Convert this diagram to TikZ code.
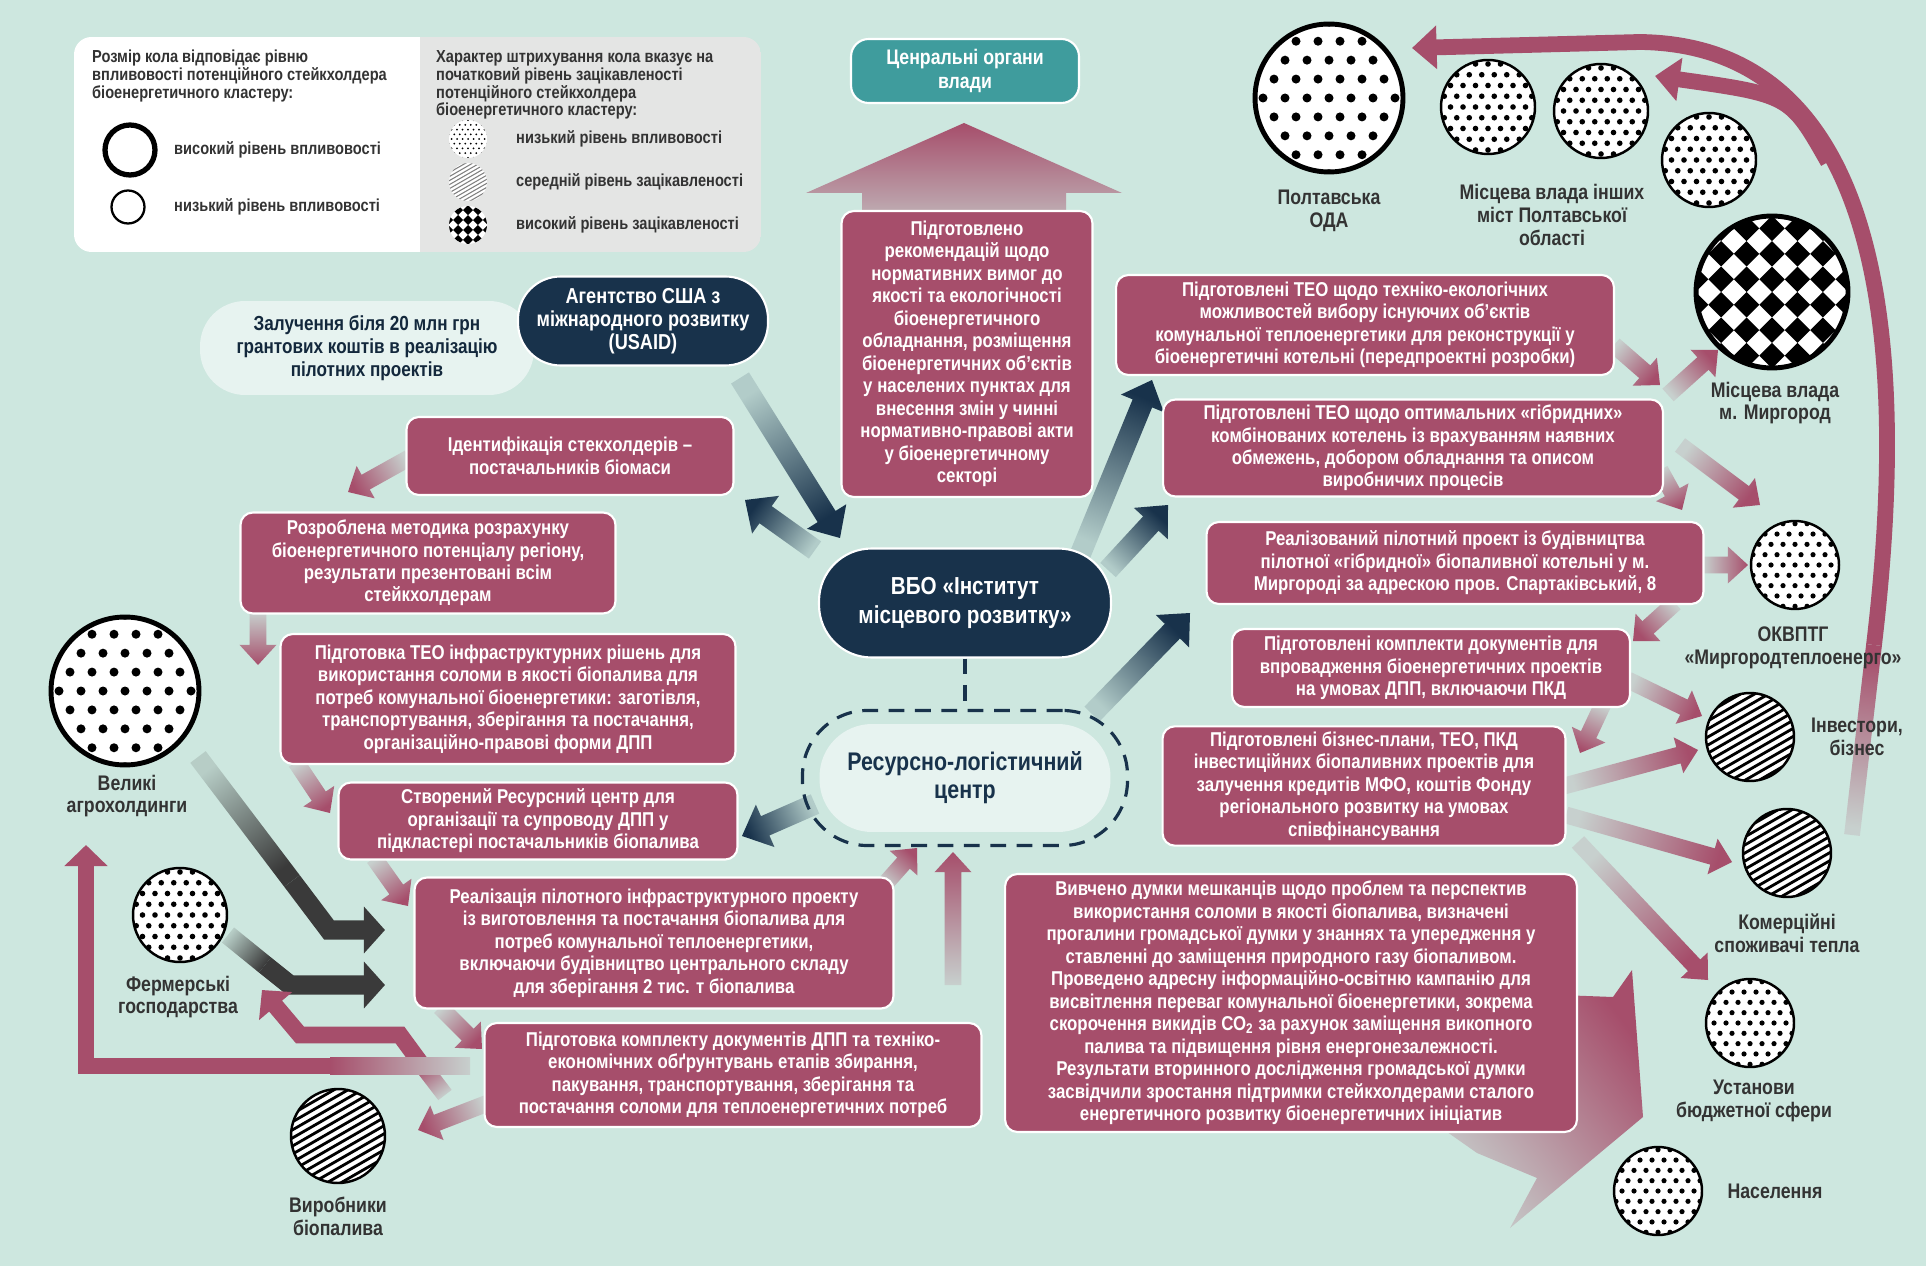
\documentclass[tikz,border=0pt]{standalone}
\usepackage{fontspec}
\setmainfont{Liberation Sans}[FakeStretch=0.84]
\usetikzlibrary{calc,fit,arrows.meta}

\definecolor{bgc}{HTML}{CDE7DF}
\definecolor{boxpink}{HTML}{A64E6B}
\definecolor{navy}{HTML}{18324B}
\definecolor{tealc}{HTML}{3F9C9D}
\definecolor{lightpill}{HTML}{E7F3F0}
\definecolor{darkarr}{HTML}{3A3A3A}
\definecolor{legendgray}{HTML}{E4E5E4}
\definecolor{lbltext}{HTML}{333333}

\newcommand\boxfont{\fontsize{11.4}{12.8}\selectfont\bfseries}
\newcommand\lblfont{\fontsize{12}{13}\selectfont\bfseries}
\newcommand\legfont{\fontsize{9.9}{10.2}\selectfont\bfseries}

% широка стрілка з градієнтом: [півширина]{хвіст}{вістря}{колір}
\newcommand\fatarrow[4][4.8pt]{%
  \coordinate (fa-a) at #2;
  \coordinate (fa-b) at #3;
  \pgfmathanglebetweenpoints{\pgfpointanchor{fa-a}{center}}{\pgfpointanchor{fa-b}{center}}%
  \pgfmathsetmacro\fashade{\pgfmathresult-90}%
  \coordinate (fa-h) at ($(fa-b)!2.4*#1!(fa-a)$);
  \shade[top color=#4, bottom color=#4!15!bgc, shading angle=\fashade]
    ($(fa-a)!#1!90:(fa-b)$) -- ($(fa-h)!#1!-90:(fa-a)$) -- ($(fa-h)!2.2*#1!-90:(fa-a)$)
    -- (fa-b) -- ($(fa-h)!2.2*#1!90:(fa-a)$) -- ($(fa-h)!#1!90:(fa-a)$)
    -- ($(fa-a)!#1!-90:(fa-b)$) -- cycle;
}
% смуга без вістря (хвіст зігнутих стрілок)
\newcommand\fatband[4][4.8pt]{%
  \coordinate (fa-a) at #2;
  \coordinate (fa-b) at #3;
  \pgfmathanglebetweenpoints{\pgfpointanchor{fa-a}{center}}{\pgfpointanchor{fa-b}{center}}%
  \pgfmathsetmacro\fashade{\pgfmathresult-90}%
  \shade[top color=#4, bottom color=#4!15!bgc, shading angle=\fashade]
    ($(fa-a)!#1!90:(fa-b)$) -- ($(fa-b)!#1!-90:(fa-a)$)
    -- ($(fa-b)!#1!90:(fa-a)$) -- ($(fa-a)!#1!-90:(fa-b)$) -- cycle;
}
% заповнення кіл
\newcommand\dotgrid[2]{%
  \begin{scope}[shift={(path picture bounding box.center)}]
    \foreach \i in {-5,...,5}{\foreach \j in {-6,...,6}{%
      \pgfmathsetmacro\dx{(\i+0.5*mod(\j+12,2))*#1}%
      \fill[black] (\dx,\j*#1*0.86) circle[radius=#2];}}
  \end{scope}}
\newcommand\hatchgrid[3][black]{%
  \begin{scope}[shift={(path picture bounding box.center)}]
    \foreach \k in {-10,...,10}
      \draw[#1, line width=#3] ({\k*#2*0.5-87},{\k*#2*0.866+50}) -- ++(174,-100);
  \end{scope}}
\newcommand\checkgrid[1]{%
  \begin{scope}[shift={(path picture bounding box.center)}]
    \foreach \i in {-5,...,4}{\foreach \j in {-5,...,4}{%
      \pgfmathtruncatemacro\chk{mod(\i+\j+20,2)}%
      \pgfmathsetmacro\ca{#1*0.7071}%
      \ifnum\chk=0 \fill[black] ({(\i-\j)*\ca},{(\i+\j)*\ca}) -- ++(\ca,\ca) -- ++(-\ca,\ca) -- ++(-\ca,-\ca) -- cycle;\fi}}
  \end{scope}}

\tikzset{
  pinkbox/.style={rectangle, rounded corners=7pt, fill=boxpink, draw=white, line width=1.2pt,
    text=white, font=\boxfont, align=center, inner sep=3pt},
  navypill/.style={rectangle, fill=navy, draw=white, line width=1.2pt, text=white,
    align=center, inner sep=3pt},
  lightbox/.style={rectangle, fill=lightpill, text=navy, align=center, inner sep=3pt},
  holder/.style={circle, draw=black, fill=white, inner sep=0pt, line width=#1},
  lbl/.style={font=\lblfont, text=lbltext, align=center},
  legtxt/.style={font=\legfont, text=lbltext, align=left},
  bendpink/.style={draw=boxpink, line width=9.6pt, line join=miter,
    -{Triangle[width=24pt 0, length=12pt 0]}},
  benddark/.style={draw=darkarr, line width=11pt, line join=miter,
    -{Triangle[width=26pt 0, length=12pt 0]}},
}

\begin{document}
\begin{tikzpicture}[x=0.02cm, y=-0.02cm]
  % тло
  \fill[bgc] (0,0) rectangle (1926,1266);
  \useasboundingbox (0,0) rectangle (1926,1266);

  % легенда
  \begin{scope}
    \clip[rounded corners=0.35cm] (74,37) rectangle (761,252);
    \fill[white] (74,37) rectangle (420,252);
    \fill[legendgray] (420,37) rectangle (761,252);
  \end{scope}
  \node[legtxt, anchor=north west] (legsize) at (86,44) {Розмір кола відповідає рівню\\впливовості потенційного стейкхолдера\\біоенергетичного кластеру:};
  \node[legtxt, anchor=north west] (leghatch) at (430,44) {Характер штрихування кола вказує на\\початковий рівень зацікавленості\\потенційного стейкхолдера\\біоенергетичного кластеру:};
  \node[circle, draw=black, line width=3pt, minimum size=1.0cm] (leghi) at (130,150) {};
  \node[circle, draw=black, line width=1.3pt, minimum size=0.66cm] (leglo) at (128,207) {};
  \node[legtxt, anchor=west] (leghit) at (168,150) {високий рівень впливовості};
  \node[legtxt, anchor=west] (leglot) at (168,207) {низький рівень впливовості};
  \node[circle, fill=white, inner sep=0pt, minimum size=0.76cm, path picture={\dotgrid{5.5}{1}}] (legdot) at (468,139) {};
  \node[circle, fill=white, inner sep=0pt, minimum size=0.76cm, path picture={\hatchgrid[gray]{3.5}{0.6pt}}] (leghat) at (468,182) {};
  \node[circle, fill=white, inner sep=0pt, minimum size=0.76cm, path picture={\checkgrid{7}}] (legchk) at (468,225) {};
  \node[legtxt, anchor=west] (legdott) at (510,139) {низький рівень впливовості};
  \node[legtxt, anchor=west] (leghatt) at (510,182) {середній рівень зацікавленості};
  \node[legtxt, anchor=west] (legchkt) at (510,225) {високий рівень зацікавленості};

  % велика стрілка вгору
  \shade[top color=boxpink, bottom color=boxpink!40!bgc]
    (862,212) -- (862,193) -- (806,193) -- (964,123) -- (1122,193) -- (1066,193) -- (1066,212) -- cycle;

  % велика стрілка від опитування
  \shade[top color=boxpink, bottom color=boxpink!15!bgc, shading angle=-53]
    (1560,995) -- (1613,997) -- (1632,970) -- (1643,1117) -- (1510,1228) -- (1537,1178) -- (1477,1153) -- (1430,1120) -- cycle;

  % рожеві стрілки ліворуч
  \fatarrow{(409,458)}{(348,492)}{boxpink}
  \fatarrow{(258,612)}{(258,665)}{boxpink}
  \fatarrow{(296,762)}{(330,813)}{boxpink}
  \fatarrow{(374,858)}{(408,906)}{boxpink}
  \fatarrow{(440,1007)}{(482,1049)}{boxpink}
  \fatarrow{(488,1103)}{(418,1130)}{boxpink}
  \fatarrow{(885,884)}{(917,848)}{boxpink}
  \fatarrow{(953,985)}{(953,852)}{boxpink}

  % рожеві стрілки праворуч
  \fatarrow{(1614,345)}{(1660,385)}{boxpink}
  \fatarrow{(1668,395)}{(1718,350)}{boxpink}
  \fatarrow{(1680,445)}{(1760,505)}{boxpink}
  \fatarrow{(1660,470)}{(1682,510)}{boxpink}
  \fatarrow{(1703,565)}{(1748,565)}{boxpink}
  \fatarrow{(1675,603)}{(1633,641)}{boxpink}
  \fatarrow{(1628,680)}{(1702,716)}{boxpink}
  \fatarrow{(1603,704)}{(1580,753)}{boxpink}
  \fatarrow{(1564,786)}{(1698,750)}{boxpink}
  \fatarrow{(1566,815)}{(1732,862)}{boxpink}
  \fatarrow{(1578,842)}{(1708,980)}{boxpink}

  % темно-сині стрілки
  \fatarrow[6pt]{(740,378)}{(840,538)}{navy}
  \fatarrow[6pt]{(815,550)}{(745,500)}{navy}
  \fatarrow[6pt]{(1080,555)}{(1152,380)}{navy}
  \fatarrow[6pt]{(1108,570)}{(1168,505)}{navy}
  \fatarrow[6pt]{(1092,714)}{(1190,613)}{navy}
  \fatarrow[6pt]{(815,804)}{(742,836)}{navy}

  % зігнуті стрілки внизу ліворуч
  \fatband[5.5pt]{(198,757)}{(292,881)}{darkarr}
  \draw[benddark] (292,881) -- (329,930) -- (385,930);
  \fatband[5.5pt]{(228,935)}{(265,965)}{darkarr}
  \draw[benddark] (265,965) -- (290,985) -- (385,985);
  \fatband{(445,1095)}{(422,1065)}{boxpink}
  \draw[bendpink] (422,1065) -- (400,1035) -- (300,1035) -- (262,990);
  \fatband{(470,1066)}{(330,1066)}{boxpink}
  \draw[bendpink] (330,1066) -- (86,1066) -- (86,845);

  % дуга праворуч
  \fatband[4.5pt]{(1852,835)}{(1874,645)}{boxpink}
  \draw[boxpink, line width=9pt, -{Triangle[width=24pt 0, length=14pt 0]}]
    (1874,645) .. controls (1915,300) and (1865,45) .. (1640,42) -- (1412,48);
  \draw[boxpink, line width=9pt, -{Triangle[width=24pt 0, length=14pt 0]}]
    (1828,162) .. controls (1790,95) .. (1655,76);

  % блоки
  \node[rectangle, rounded corners=10pt, fill=tealc, draw=white, line width=1.2pt, text=white,
    font=\fontsize{12}{13.2}\selectfont\bfseries, align=center,
    minimum width=4.56cm, minimum height=1.28cm] (central) at (965,71) {Ценральні органи\\влади};
  \node[pinkbox, minimum width=5.02cm, minimum height=5.72cm] (recom) at (967,354)
    {Підготовлено\\рекомендацій щодо\\нормативних вимог до\\якості та екологічності\\біоенергетичного\\обладнання, розміщення\\біоенергетичних об'єктів\\у населених пунктах для\\внесення змін у чинні\\нормативно-правові акти\\у біоенергетичному\\секторі};
  \node[lightbox, rounded corners=0.9cm, minimum width=6.68cm, minimum height=1.88cm,
    font=\fontsize{11.6}{12.9}\selectfont\bfseries, text=navy!80!black] (grant) at (367,348)
    {Залучення біля 20 млн грн\\грантових коштів в реалізацію\\пілотних проектів};
  \node[navypill, rounded corners=0.85cm, minimum width=5.0cm, minimum height=1.78cm,
    font=\fontsize{12.3}{13}\selectfont\bfseries] (usaid) at (643,321)
    {Агентство США з\\міжнародного розвитку\\(USAID)};
  \node[pinkbox, minimum width=6.54cm, minimum height=1.56cm] (ident) at (570,456)
    {Ідентифікація стекхолдерів –\\постачальників біомаси};
  \node[pinkbox, minimum width=7.5cm, minimum height=2.02cm] (method) at (428,563)
    {Розроблена методика розрахунку\\біоенергетичного потенціалу регіону,\\результати презентовані всім\\стейкхолдерам};
  \node[pinkbox, minimum width=9.1cm, minimum height=2.6cm] (teoinf) at (508,699)
    {Підготовка ТЕО інфраструктурних рішень для\\використання соломи в якості біопалива для\\потреб комунальної біоенергетики: заготівля,\\транспортування, зберігання та постачання,\\організаційно-правові форми ДПП};
  \node[pinkbox, minimum width=7.98cm, minimum height=1.54cm] (rescen) at (538,821)
    {Створений Ресурсний центр для\\організації та супроводу ДПП у\\підкластері постачальників біопалива};
  \node[pinkbox, minimum width=9.58cm, minimum height=2.62cm] (pilot) at (654,943)
    {Реалізація пілотного інфраструктурного проекту\\із виготовлення та постачання біопалива для\\потреб комунальної теплоенергетики,\\включаючи будівництво центрального складу\\для зберігання 2 тис. т біопалива};
  \node[pinkbox, minimum width=9.94cm, minimum height=2.08cm] (docs) at (733,1075)
    {Підготовка комплекту документів ДПП та техніко-\\економічних обґрунтувань етапів збирання,\\пакування, транспортування, зберігання та\\постачання соломи для теплоенергетичних потреб};
  \node[pinkbox, minimum width=9.96cm, minimum height=2.0cm] (teotech) at (1365,325)
    {Підготовлені ТЕО щодо техніко-екологічних\\можливостей вибору існуючих об'єктів\\комунальної теплоенергетики для реконструкції у\\біоенергетичні котельні (передпроектні розробки)};
  \node[pinkbox, minimum width=10.0cm, minimum height=1.94cm] (teohyb) at (1413,448)
    {Підготовлені ТЕО щодо оптимальних «гібридних»\\комбінованих котелень із врахуванням наявних\\обмежень, добором обладнання та описом\\виробничих процесів};
  \node[pinkbox, minimum width=9.94cm, minimum height=1.64cm] (boiler) at (1455,563)
    {Реалізований пілотний проект із будівництва\\пілотної «гібридної» біопаливної котельні у м.\\Миргороді за адрескою пров. Спартаківський, 8};
  \node[pinkbox, minimum width=7.96cm, minimum height=1.56cm] (ppp) at (1431,668)
    {Підготовлені комплекти документів для\\впровадження біоенергетичних проектів\\на умовах ДПП, включаючи ПКД};
  \node[pinkbox, minimum width=8.06cm, minimum height=2.36cm] (bplan) at (1364,786)
    {Підготовлені бізнес-плани, ТЕО, ПКД\\інвестиційних біопаливних проектів для\\залучення кредитів МФО, коштів Фонду\\регіонального розвитку на умовах\\співфінансування};
  \node[pinkbox, minimum width=11.44cm, minimum height=5.16cm] (survey) at (1291,1003)
    {Вивчено думки мешканців щодо проблем та перспектив\\використання соломи в якості біопалива, визначені\\прогалини громадської думки у знаннях та упередження у\\ставленні до заміщення природного газу біопаливом.\\Проведено адресну  інформаційно-освітню кампанію для\\висвітлення переваг  комунальної біоенергетики, зокрема\\скорочення викидів СО\textsubscript{2} за рахунок заміщення викопного\\палива та підвищення рівня енергонезалежності.\\Результати вторинного дослідження громадської думки\\засвідчили зростання підтримки стейкхолдерами сталого\\енергетичного розвитку біоенергетичних ініціатив};

  % центр
  \node[navypill, rounded corners=1.05cm, minimum width=5.84cm, minimum height=2.18cm,
    font=\fontsize{14}{16}\selectfont\bfseries] (vbo) at (965,603) {ВБО «Інститут\\місцевого розвитку»};
  \node[lightbox, rounded corners=1.05cm, minimum width=5.82cm, minimum height=2.16cm,
    font=\fontsize{14.5}{16}\selectfont\bfseries] (rlc) at (965,778) {Ресурсно-логістичний\\центр};
  \node[draw=navy, line width=1.8pt, dash pattern=on 9pt off 6pt, rounded corners=1.3cm,
    inner xsep=9.5pt, inner ysep=7.5pt, fit=(rlc)] (rlcd) {};
  \draw[navy, line width=1.8pt, dash pattern=on 9pt off 6pt] (vbo.south) -- (rlcd.north);

  % стейкхолдери праворуч
  \node[holder=2.8pt, minimum size=2.96cm, path picture={\dotgrid{22}{4.5}}] (oda) at (1329,98) {};
  \node[holder=1.4pt, minimum size=1.88cm, path picture={\dotgrid{12.5}{2.8}}] (city1) at (1488,107) {};
  \node[holder=1.4pt, minimum size=1.88cm, path picture={\dotgrid{12.5}{2.8}}] (city2) at (1601,111) {};
  \node[holder=1.4pt, minimum size=1.88cm, path picture={\dotgrid{12.5}{2.8}}] (city3) at (1709,160) {};
  \node[holder=2.8pt, minimum size=3.04cm, path picture={\checkgrid{18}}] (myr) at (1772,292) {};
  \node[holder=1.4pt, minimum size=1.76cm, path picture={\dotgrid{12}{2.6}}] (okv) at (1795,565) {};
  \node[holder=1.4pt, minimum size=1.76cm, path picture={\hatchgrid{7}{1.6pt}}] (inv) at (1750,737) {};
  \node[holder=1.4pt, minimum size=1.76cm, path picture={\hatchgrid{7}{1.6pt}}] (kom) at (1787,853) {};
  \node[holder=1.4pt, minimum size=1.76cm, path picture={\dotgrid{12}{2.6}}] (ust) at (1750,1023) {};
  \node[holder=1.4pt, minimum size=1.76cm, path picture={\dotgrid{12}{2.6}}] (nas) at (1658,1191) {};
  \node[lbl] (odal) at (1329,211) {Полтавська\\ОДА};
  \node[lbl] (cityl) at (1552,215) {Місцева влада інших\\міст Полтавської\\області};
  \node[lbl] (myrl) at (1775,403) {Місцева влада\\м. Миргород};
  \node[lbl] (okvl) at (1793,648) {ОКВПТГ\\«Миргородтеплоенерго»};
  \node[lbl] (invl) at (1857,737) {Інвестори,\\бізнес};
  \node[lbl] (koml) at (1787,933) {Комерційні\\споживачі тепла};
  \node[lbl] (ustl) at (1754,1101) {Установи\\бюджетної сфери};
  \node[lbl] (nasl) at (1775,1191) {Населення};

  % стейкхолдери ліворуч
  \node[holder=2.8pt, minimum size=2.96cm, path picture={\dotgrid{22}{4.5}}] (agro) at (125,691) {};
  \node[holder=1.4pt, minimum size=1.88cm, path picture={\dotgrid{12.5}{2.8}}] (farm) at (180,915) {};
  \node[holder=1.4pt, minimum size=1.88cm, path picture={\hatchgrid{7}{1.6pt}}] (prod) at (338,1136) {};
  \node[lbl] (agrol) at (127,796) {Великі\\агрохолдинги};
  \node[lbl] (farml) at (178,997) {Фермерські\\господарства};
  \node[lbl] (prodl) at (338,1216) {Виробники\\біопалива};
\end{tikzpicture}
\end{document}
